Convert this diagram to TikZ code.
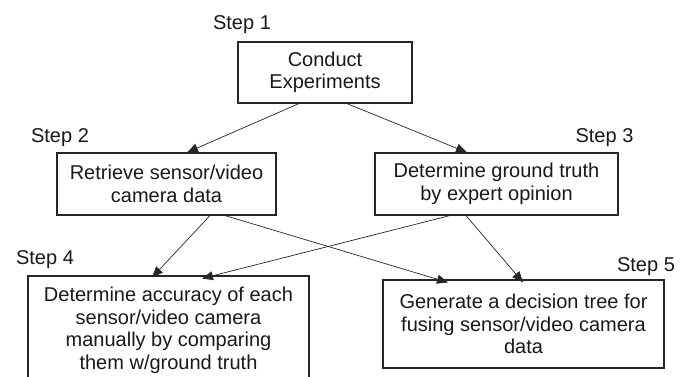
\documentclass[tikz,border=0pt]{standalone}
\usepackage{fontspec}
\setmainfont{Liberation Sans}
\usetikzlibrary{arrows.meta}
\begin{document}
\begin{tikzpicture}[x=1pt,y=-1pt,
  box/.style={draw=black!85,line width=1.1pt,inner sep=0pt,align=center,
    font=\fontsize{20}{22.5}\selectfont,text=black!90},
  lbl/.style={inner sep=0pt,font=\fontsize{20}{22.5}\selectfont,text=black!90},
  arr/.style={draw=black!85,line width=0.7pt,-{Triangle[length=11pt,width=9pt]}}]
\useasboundingbox[fill=white] (0,0) rectangle (691,376);
\node[box,minimum width=174pt,minimum height=61pt] (b1) at (325,72.5) {Conduct\\Experiments};
\node[box,minimum width=219pt,minimum height=62pt] (b2) at (166.5,184) {Retrieve sensor/video\\camera data};
\node[box,minimum width=243pt,minimum height=62pt] (b3) at (496.5,184) {Determine ground truth\\by expert opinion};
\node[box,minimum width=281pt,minimum height=109pt] (b4) at (168.5,330.5) {Determine accuracy of each\\sensor/video camera\\manually by comparing\\them w/ground truth};
\node[box,minimum width=281pt,minimum height=88pt] (b5) at (523.5,324) {Generate a decision tree for\\fusing sensor/video camera\\data};
\node[lbl] (s1) at (242,25) {Step 1};
\node[lbl] (s2) at (60,138) {Step 2};
\node[lbl] (s3) at (604.5,138) {Step 3};
\node[lbl] (s4) at (45,260) {Step 4};
\node[lbl] (s5) at (646,267) {Step 5};
\draw[arr] ([xshift=-26pt]b1.south) -- ([xshift=20.5pt]b2.north);
\draw[arr] ([xshift=22pt]b1.south) -- ([xshift=-29.5pt]b3.north);
\draw[arr] ([xshift=43.5pt]b2.south) -- ([xshift=-16.5pt,yshift=-2pt]b4.north);
\draw[arr] ([xshift=58.5pt]b2.south) -- ([xshift=-75.5pt,yshift=-3pt]b5.north);
\draw[arr] ([xshift=-46.5pt]b3.south) -- ([xshift=33.5pt,yshift=-3pt]b4.north);
\draw[arr] ([xshift=-30.5pt]b3.south) -- ([xshift=-0.5pt,yshift=-3pt]b5.north);
\end{tikzpicture}
\end{document}
